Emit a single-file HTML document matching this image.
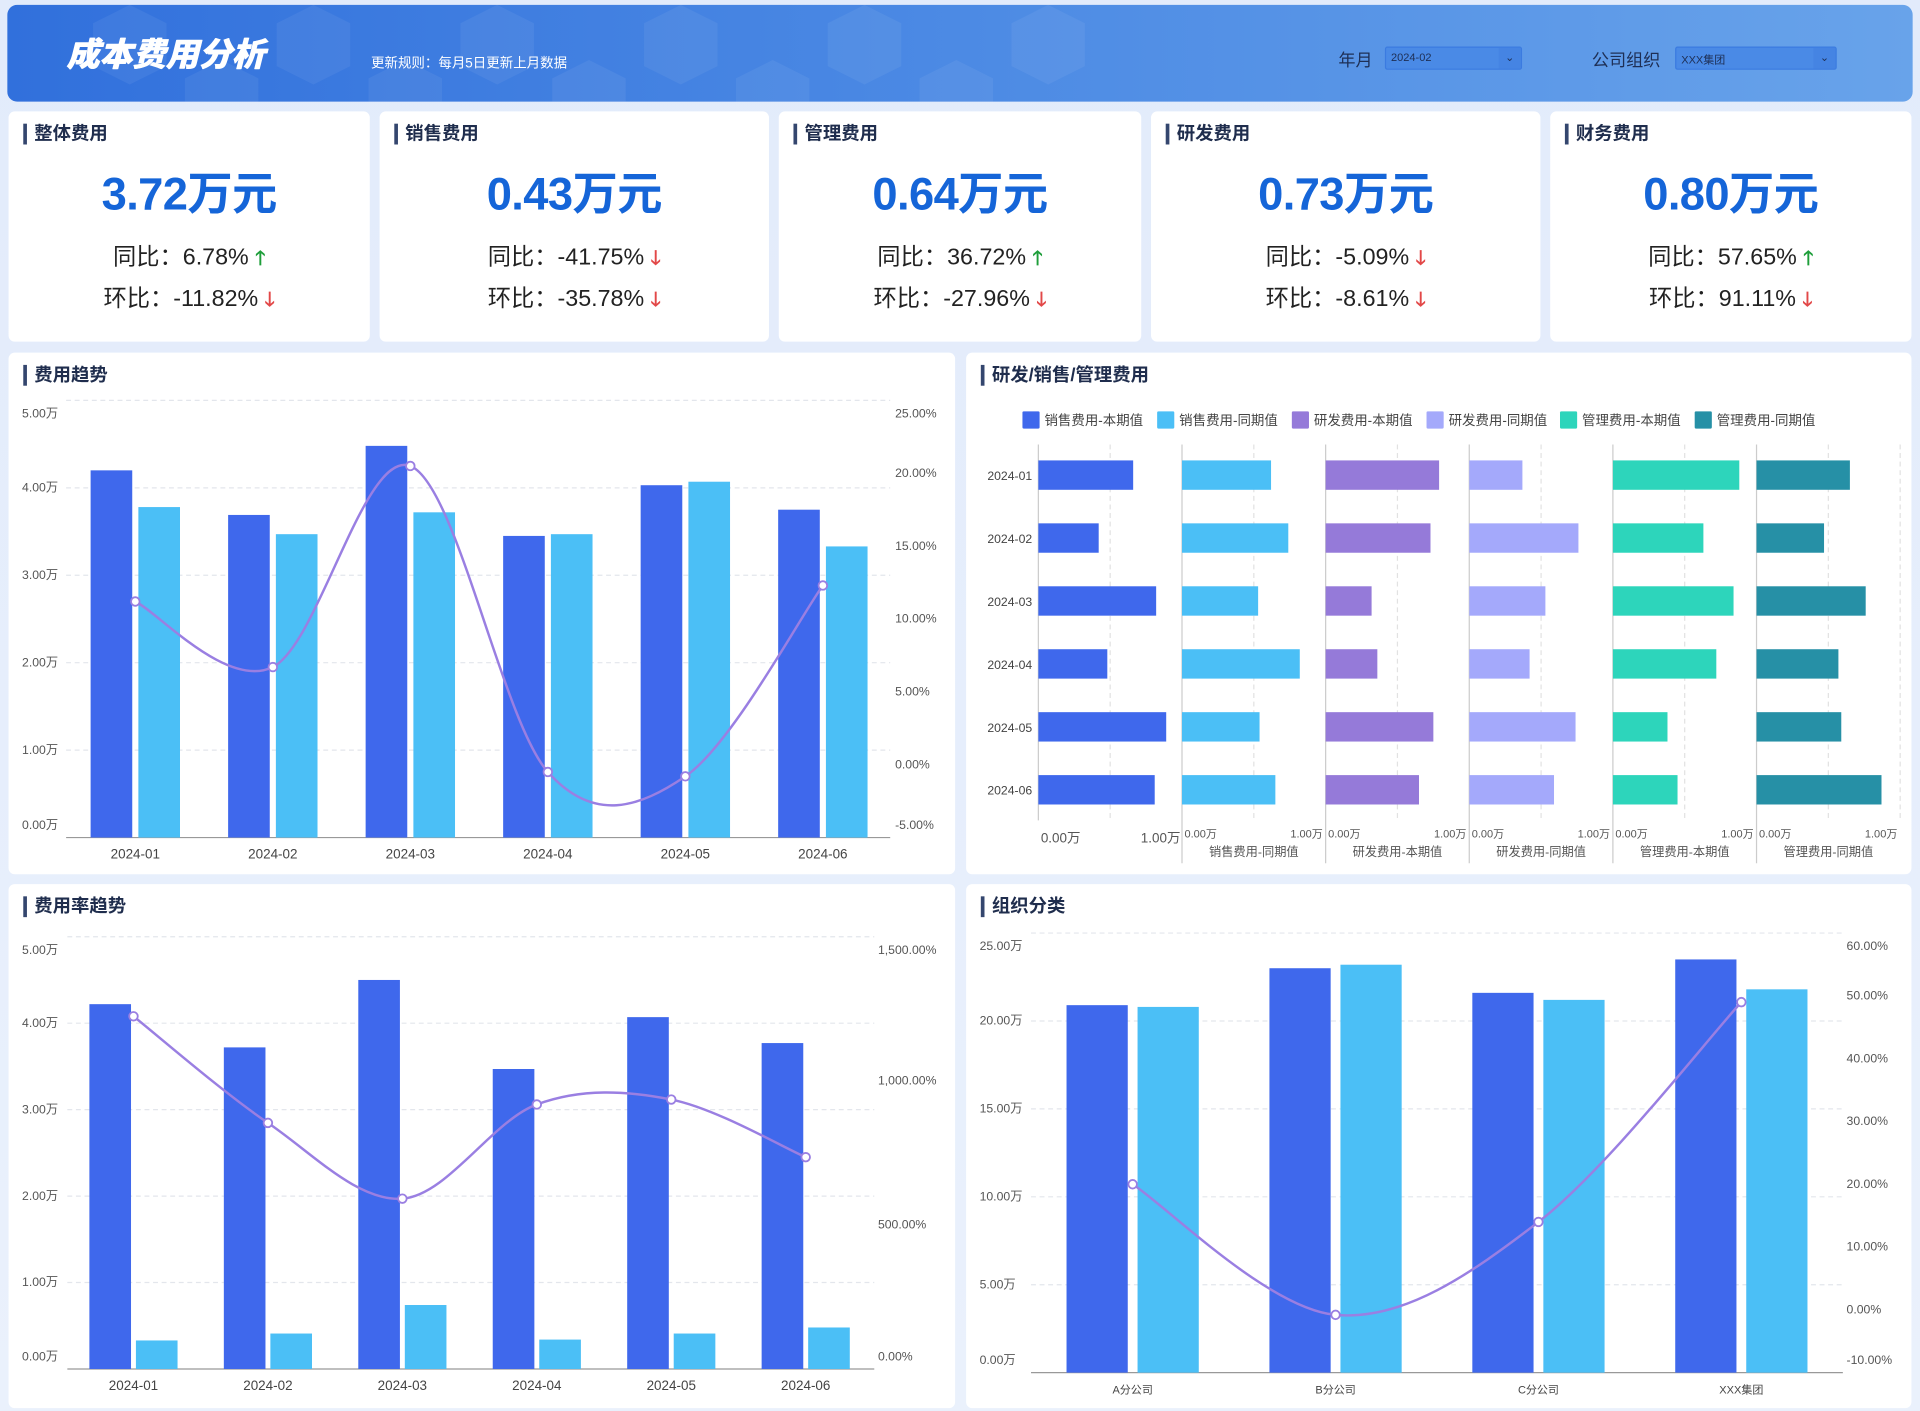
<!DOCTYPE html>
<html><head><meta charset="utf-8">
<style>
*{box-sizing:border-box;margin:0;padding:0}
html,body{width:1920px;height:1410px;overflow:hidden;background:#e6eefb}
#root{position:absolute;left:0;top:0;width:1568px;height:1152px;transform:scale(1.22449);transform-origin:0 0;font-family:"Liberation Sans","Noto Sans CJK SC",sans-serif;background:linear-gradient(180deg,#e2ebfb,#eaf1fc)}
.abs{position:absolute}
.header{left:6px;top:4px;width:1556px;height:79px;border-radius:8px;background:linear-gradient(90deg,#3170dc 0%,#4c8ae4 50%,#68a3ea 100%);overflow:hidden}
.title{left:54px;top:23px;font-size:27px;font-weight:900;font-style:italic;color:#fff;letter-spacing:0px;text-shadow:0.6px 0 #fff}
.sub{left:303px;top:43px;font-size:11px;color:#fff}
.lbl{font-size:14px;color:#1e2f55}
.sel{height:19px;border:1px solid #3b7be0;background:#4a8ae6;font-size:9px;color:#1e2f55;padding:3px 4px;border-radius:2px}
.sel span.ar{position:absolute;right:0;top:0;width:18px;height:17px;background:#4584e3;font-size:9px;text-align:center;line-height:16px}
.card{background:#fff;border-radius:5px}
.ct{position:absolute;left:12px;top:10px;font-size:15px;font-weight:bold;color:#1f2d4d;border-left:3px solid #34466e;padding-left:6px;line-height:17px}
.val{position:absolute;left:0;right:0;top:37px;text-align:center;font-size:37px;font-weight:bold;color:#1565d8;letter-spacing:-0.5px}
.rt{position:absolute;left:0;right:0;text-align:center;font-size:19px;color:#222}
.up{color:#1e9e3a;font-weight:bold;font-size:16px}
.dn{color:#e24848;font-weight:bold;font-size:16px}
svg text{font-family:"Liberation Sans","Noto Sans CJK SC",sans-serif}
</style></head><body>
<div id="root">
<div class="abs header">
<svg class="abs" style="left:0;top:0" width="1556" height="79">
<g fill="#ffffff" opacity="0.06">
<polygon points="100,0 130,15 130,50 100,65 70,50 70,15"/><polygon points="250,0 280,15 280,50 250,65 220,50 220,15"/><polygon points="400,0 430,15 430,50 400,65 370,50 370,15"/><polygon points="550,0 580,15 580,50 550,65 520,50 520,15"/><polygon points="700,0 730,15 730,50 700,65 670,50 670,15"/><polygon points="850,0 880,15 880,50 850,65 820,50 820,15"/><polygon points="175,45 205,60 205,95 175,110 145,95 145,60"/><polygon points="325,45 355,60 355,95 325,110 295,95 295,60"/><polygon points="475,45 505,60 505,95 475,110 445,95 445,60"/><polygon points="625,45 655,60 655,95 625,110 595,95 595,60"/><polygon points="775,45 805,60 805,95 775,110 745,95 745,60"/></g></svg>
</div>
<div class="abs title">成本费用分析</div>
<div class="abs sub">更新规则：每月5日更新上月数据</div>
<div class="abs lbl" style="left:1093px;top:39px">年月</div>
<div class="abs sel" style="left:1131px;top:38px;width:112px">2024-02<span class="ar">⌄</span></div>
<div class="abs lbl" style="left:1300px;top:39px">公司组织</div>
<div class="abs sel" style="left:1368px;top:38px;width:132px">XXX集团<span class="ar">⌄</span></div>

<div class="abs card" style="left:7px;top:91px;width:295px;height:188px"><div class="ct">整体费用</div><div class="val">3.72万元</div><div class="rt" style="top:104px">同比：6.78% <span class="up">🡑</span></div><div class="rt" style="top:138px">环比：-11.82% <span class="dn">🡓</span></div></div>
<div class="abs card" style="left:310px;top:91px;width:318px;height:188px"><div class="ct">销售费用</div><div class="val">0.43万元</div><div class="rt" style="top:104px">同比：-41.75% <span class="dn">🡓</span></div><div class="rt" style="top:138px">环比：-35.78% <span class="dn">🡓</span></div></div>
<div class="abs card" style="left:636px;top:91px;width:296px;height:188px"><div class="ct">管理费用</div><div class="val">0.64万元</div><div class="rt" style="top:104px">同比：36.72% <span class="up">🡑</span></div><div class="rt" style="top:138px">环比：-27.96% <span class="dn">🡓</span></div></div>
<div class="abs card" style="left:940px;top:91px;width:318px;height:188px"><div class="ct">研发费用</div><div class="val">0.73万元</div><div class="rt" style="top:104px">同比：-5.09% <span class="dn">🡓</span></div><div class="rt" style="top:138px">环比：-8.61% <span class="dn">🡓</span></div></div>
<div class="abs card" style="left:1266px;top:91px;width:295px;height:188px"><div class="ct">财务费用</div><div class="val">0.80万元</div><div class="rt" style="top:104px">同比：57.65% <span class="up">🡑</span></div><div class="rt" style="top:138px">环比：91.11% <span class="dn">🡓</span></div></div>

<div class="abs card" style="left:7px;top:288px;width:773px;height:426px"><div class="ct">费用趋势</div></div>
<div class="abs card" style="left:789px;top:288px;width:772px;height:426px"><div class="ct">研发/销售/管理费用</div></div>
<div class="abs card" style="left:7px;top:722px;width:773px;height:428px"><div class="ct">费用率趋势</div></div>
<div class="abs card" style="left:789px;top:722px;width:772px;height:428px"><div class="ct">组织分类</div></div>

<svg id="charts" class="abs" style="left:0;top:0" width="1568" height="1152"></svg>
</div>
<script>
// Chart 1: 费用趋势
const months = ['2024-01','2024-02','2024-03','2024-04','2024-05','2024-06'];
const trendCurrent = [4.20,3.69,4.48,3.45,4.03,3.75];
const trendLastYear = [3.78,3.47,3.72,3.47,4.07,3.33];
const trendRate = [11.2,6.7,20.5,-0.5,-0.8,12.3];
const trendLeftTicks = ['0.00万','1.00万','2.00万','3.00万','4.00万','5.00万'];
const trendRightTicks = ['-5.00%','0.00%','5.00%','10.00%','15.00%','20.00%','25.00%'];
// Chart 3: 费用率趋势
const rateCost = [4.22,3.72,4.50,3.47,4.07,3.77];
const rateIncome = [0.33,0.41,0.74,0.34,0.41,0.48];
const rateLine = [1224,854,591,918,935,735];
const rateLeftTicks = ['0.00万','1.00万','2.00万','3.00万','4.00万','5.00万'];
const rateRightTicks = ['0.00%','500.00%','1,000.00%','1,500.00%'];
// Chart 4: 组织分类
const orgs = ['A分公司','B分公司','C分公司','XXX集团'];
const orgCurrent = [20.9,23.0,21.6,23.5];
const orgLastYear = [20.8,23.2,21.2,21.8];
const orgRate = [20,-0.8,14,49];
const orgLeftTicks = ['0.00万','5.00万','10.00万','15.00万','20.00万','25.00万'];
const orgRightTicks = ['-10.00%','0.00%','10.00%','20.00%','30.00%','40.00%','50.00%','60.00%'];
// Chart 2: 研发/销售/管理费用
const seriesNames = ['销售费用-本期值','销售费用-同期值','研发费用-本期值','研发费用-同期值','管理费用-本期值','管理费用-同期值'];
const salesCur = [0.66,0.42,0.82,0.48,0.89,0.81];
const salesLast = [0.62,0.74,0.53,0.82,0.54,0.65];
const rdCur = [0.79,0.73,0.32,0.36,0.75,0.65];
const rdLast = [0.37,0.76,0.53,0.42,0.74,0.59];
const adminCur = [0.88,0.63,0.84,0.72,0.38,0.45];
const adminLast = [0.65,0.47,0.76,0.57,0.59,0.87];

const NS='http://www.w3.org/2000/svg';
const svg=document.getElementById('charts');
function mk(tag,attrs,parent,text){const e=document.createElementNS(NS,tag);for(const k in attrs)e.setAttribute(k,attrs[k]);if(text!==undefined)e.textContent=text;(parent||svg).appendChild(e);return e;}
function smooth(pts){let d='M'+pts[0][0]+','+pts[0][1];for(let i=0;i<pts.length-1;i++){const p0=pts[i-1]||pts[i],p1=pts[i],p2=pts[i+1],p3=pts[i+2]||p2;const t=1/3;const c1=[p1[0]+(p2[0]-p0[0])*t/2,p1[1]+(p2[1]-p0[1])*t/2];const c2=[p2[0]-(p3[0]-p1[0])*t/2,p2[1]-(p3[1]-p1[1])*t/2];d+=' C'+c1[0]+','+c1[1]+' '+c2[0]+','+c2[1]+' '+p2[0]+','+p2[1];}return d;}
const C_DARK='#3f68ec',C_LIGHT='#4bbff6',C_LINE='#9a7fe2';

function comboChart(o){
  const g=mk('g',{});
  
  
  const yL=v=>o.y0-(v-o.lmin)/(o.lmax-o.lmin)*(o.y0-o.y1);
  const yR=v=>o.y0-(v-o.rmin)/(o.rmax-o.rmin)*(o.y0-o.y1);
  const x=i=>o.cx0+i*o.step;
  o.lticks.forEach((t,i)=>{const v=o.lmin+i*(o.lmax-o.lmin)/(o.lticks.length-1);const y=yL(v);
    if(i>0){const gl=mk('line',{x1:o.gx0,x2:o.gx1,y1:y,y2:y,stroke:'#e3e6ec','stroke-dasharray':'4,3'},g);}
    const ty=i==0?y-7:(i==o.lticks.length-1?y+14:y+3);
    const tl=mk('text',{x:o.lx,y:ty,'font-size':10,fill:'#555'},g,t);});
  o.rticks.forEach((t,i)=>{const v=o.rmin+i*(o.rmax-o.rmin)/(o.rticks.length-1);const y=yR(v);
    const ty=i==0?y-7:(i==o.rticks.length-1?y+14:y+3);
    const tl=mk('text',{x:o.rx,y:ty,'font-size':10,fill:'#555'},g,t);});
  const ax=mk('line',{x1:o.gx0,x2:o.gx1,y1:o.y0,y2:o.y0,stroke:'#999'},g);
  o.cats.forEach((c,i)=>{
    const b1=mk('rect',{x:x(i)-o.gap/2-o.bw,y:yL(o.s1[i]),width:o.bw,height:o.y0-yL(o.s1[i]),fill:C_DARK},g);
    
    const b2=mk('rect',{x:x(i)+o.gap/2,y:yL(o.s2[i]),width:o.bw,height:o.y0-yL(o.s2[i]),fill:C_LIGHT},g);
    
    const tl=mk('text',{x:x(i),y:o.y0+17,'font-size':o.catSize||11,fill:'#444','text-anchor':'middle'},g,c);
    
  });
  const pts=o.line.map((v,i)=>[x(i),yR(v)]);
  const ln=mk('path',{d:smooth(pts),fill:'none',stroke:C_LINE,'stroke-width':2},g);
  
  pts.forEach(p=>{const c=mk('circle',{cx:p[0],cy:p[1],r:3.5,fill:'#fff',stroke:C_LINE,'stroke-width':1.5},g);});
}
comboChart({name:'cost-trend-chart',cats:months,s1:trendCurrent,s2:trendLastYear,line:trendRate,lticks:trendLeftTicks,rticks:trendRightTicks,lmin:0,lmax:5,rmin:-5,rmax:25,y0:684,y1:327,cx0:110.5,step:112.3,bw:34,gap:5,gx0:54,gx1:727,lx:18,rx:731});
comboChart({name:'cost-rate-trend-chart',cats:months,s1:rateCost,s2:rateIncome,line:rateLine,lticks:rateLeftTicks,rticks:rateRightTicks,lmin:0,lmax:5,rmin:0,rmax:1500,y0:1118,y1:765,cx0:109,step:109.8,bw:34,gap:4,gx0:55,gx1:714,lx:18,rx:717});
comboChart({name:'org-category-chart',cats:orgs,s1:orgCurrent,s2:orgLastYear,line:orgRate,lticks:orgLeftTicks,rticks:orgRightTicks,lmin:0,lmax:25,rmin:-10,rmax:60,y0:1121,y1:762,cx0:925,step:165.7,bw:50,gap:8,gx0:842,gx1:1505,lx:800,rx:1508,catSize:9});

// Chart 2 small multiples
const colors2=['#3f68ec','#4bbff6','#957ad9','#a4a9fb','#2dd5bb','#2690a6'];
const data2=[salesCur,salesLast,rdCur,rdLast,adminCur,adminLast];
const g2=mk('g',{});


const legX=[835,945,1055,1165,1274,1384];
seriesNames.forEach((n,i)=>{
  const lg=mk('g',{},g2);
  
  
  mk('rect',{x:legX[i],y:336,width:14,height:14,fill:colors2[i],rx:1},lg);
  mk('text',{x:legX[i]+18,y:347,'font-size':11,fill:'#444'},lg,n);
});
const sx0=848,sw=117.3,ry0=363,ry1=670,rowStep=51.4,bh=24;
const rowY=i=>388+i*rowStep;
months.forEach((m,i)=>{const t=mk('text',{x:843,y:rowY(i)+4,'font-size':10,fill:'#444','text-anchor':'end'},g2,m);});
data2.forEach((arr,s)=>{
  const x0=sx0+s*sw;
  const xs=v=>x0+v*sw;
  const ax=mk('line',{x1:x0,x2:x0,y1:ry0,y2:s==0?ry1:705,stroke:'#ccc'},g2);
  const gl=mk('line',{x1:xs(0.5),x2:xs(0.5),y1:ry0,y2:ry1,stroke:'#e2e2e2','stroke-dasharray':'4,3'},g2);
  if(s==5){const gl2=mk('line',{x1:xs(1),x2:xs(1),y1:ry0,y2:ry1,stroke:'#e2e2e2','stroke-dasharray':'4,3'},g2);}
  arr.forEach((v,i)=>{const r=mk('rect',{x:x0,y:rowY(i)-bh/2,width:xs(v)-x0,height:bh,fill:colors2[s]},g2);});
  if(s==0){
    mk('text',{x:x0+2,y:688,'font-size':11,fill:'#555'},g2,'0.00万');
    mk('text',{x:x0+116,y:688,'font-size':11,fill:'#555','text-anchor':'end'},g2,'1.00万');
  }else{
    mk('text',{x:x0+2,y:684,'font-size':9,fill:'#555'},g2,'0.00万');
    mk('text',{x:x0+115,y:684,'font-size':9,fill:'#555','text-anchor':'end'},g2,'1.00万');
    const st=mk('text',{x:x0+sw/2,y:699,'font-size':10,fill:'#555','text-anchor':'middle'},g2,seriesNames[s]);
    
  }
});
</script>
</body></html>
